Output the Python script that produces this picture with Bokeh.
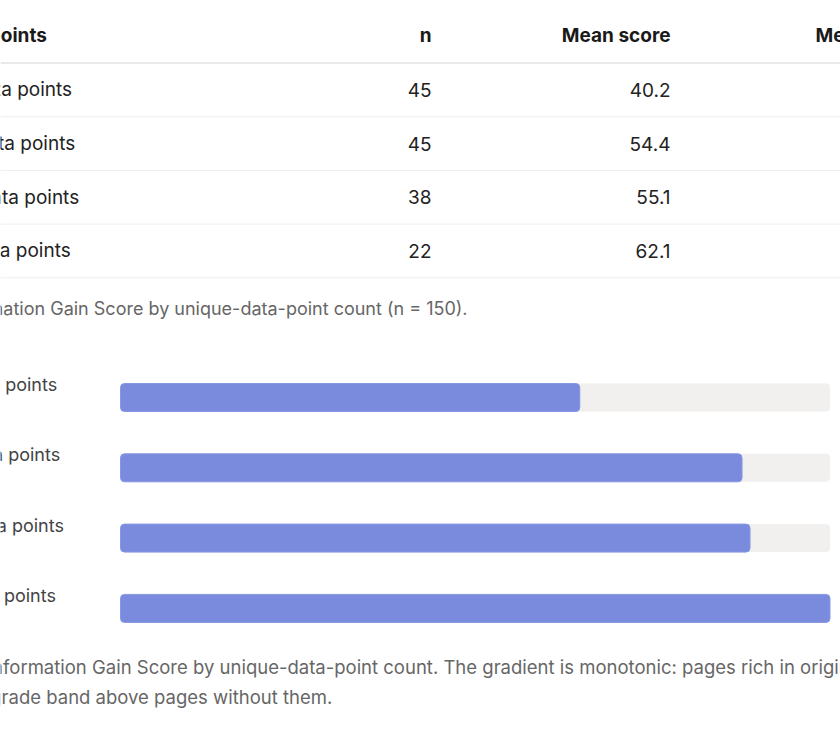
from bokeh.plotting import figure
from bokeh.models import Range1d, ColumnDataSource
from bokeh.embed import file_html
from bokeh.resources import INLINE
from bokeh.core.properties import value

# ---------------- data ----------------
header = ["Data points", "n", "Mean score", "Median score"]
groups = ["No data points", "1–2 data points", "3–5 data points", "6+ data points"]
bar_labels = ["No data points", "1–2 data points", "3–5 data points", "6+ data points"]
n_pages = [45, 45, 38, 22]
mean_score = [40.2, 54.4, 55.1, 62.1]
table_caption = "Table 1. Mean Information Gain Score by unique-data-point count (n = 150)."
figure_caption = [
    "Figure 1. Mean Information Gain Score by unique-data-point count. The gradient is monotonic: pages rich in original",
    "data earn a full grade band above pages without them.",
]

# ---------------- layout constants ----------------
W, H = 840, 740
FONT = value("Inter")
TABLE_X0 = -59
HEAD_Y = 35
HEAD_LINE = 62.5
ROW_H = 53.7
N_RIGHT = 431
MEAN_RIGHT = 670
MEDIAN_LEFT = 815
CAP1_X0 = -174
CAP1_Y = 308
TRACK_L, TRACK_R = 120, 829.5
BAR_Y0, BAR_STEP, BAR_H = 397, 70.3, 28
LABEL_X0 = -67
FIGCAP_X0 = -146
FIGCAP_Y0, FIGCAP_STEP = 666, 30

p = figure(width=W, height=H, x_range=Range1d(0, W), y_range=Range1d(H, 0),
           min_border=0, toolbar_location=None, output_backend="svg",
           x_axis_location=None, y_axis_location=None)
p.grid.visible = False
p.outline_line_color = None
p.background_fill_color = "white"
p.border_fill_color = "white"

# score range mapped so that 0 -> TRACK_L and max -> TRACK_R
smax = max(mean_score)
scale = (TRACK_R - TRACK_L) / smax
p.extra_x_ranges = {"score": Range1d(-TRACK_L / scale, (W - TRACK_L) / scale)}

# ---------------- table ----------------
nrows = len(groups)
row_y = [HEAD_LINE + ROW_H * (i + 0.5) for i in range(nrows)]
line_y = [HEAD_LINE + ROW_H * (i + 1) for i in range(nrows)]

p.segment(x0=[0], x1=[W], y0=[HEAD_LINE], y1=[HEAD_LINE], line_color="#e2e2e2", line_width=1.3)
p.segment(x0=[0] * nrows, x1=[W] * nrows, y0=line_y, y1=line_y, line_color="#eeeeee", line_width=1)

hdr_common = dict(text_font=FONT, text_font_size="19px", text_font_style="bold",
                  text_color="#1a1a1a", text_baseline="middle")
p.text(x=[TABLE_X0], y=[HEAD_Y], text=[header[0]], text_align="left", **hdr_common)
p.text(x=[N_RIGHT, MEAN_RIGHT], y=[HEAD_Y, HEAD_Y], text=[header[1], header[2]],
       text_align="right", **hdr_common)
p.text(x=[MEDIAN_LEFT], y=[HEAD_Y], text=[header[3]], text_align="left", **hdr_common)

src = ColumnDataSource(dict(
    label=groups, y=row_y,
    n=[str(v) for v in n_pages],
    mean=[f"{v:.1f}" for v in mean_score],
))
cell = dict(text_font=FONT, text_font_size="19px", text_color="#222222", text_baseline="middle")
p.text(x=TABLE_X0, y="y", text="label", source=src, text_align="left", **cell)
p.text(x=N_RIGHT, y="y", text="n", source=src, text_align="right", **cell)
p.text(x=MEAN_RIGHT, y="y", text="mean", source=src, text_align="right", **cell)

cap = dict(text_font=FONT, text_color="#666666", text_baseline="middle", text_align="left")
p.text(x=[CAP1_X0], y=[CAP1_Y], text=[table_caption], text_font_size="18px", **cap)

# ---------------- bar chart ----------------
bar_y = [BAR_Y0 + BAR_STEP * i for i in range(nrows)]
bsrc = ColumnDataSource(dict(y=bar_y, score=mean_score, full=[smax] * nrows,
                             label=bar_labels, ly=[y - 13 for y in bar_y]))
p.hbar(y="y", left=0, right="full", height=BAR_H, source=bsrc, x_range_name="score",
       fill_color="#f1f0ee", line_color=None, border_radius=4)
p.hbar(y="y", left=0, right="score", height=BAR_H, source=bsrc, x_range_name="score",
       fill_color="#7a8bdd", line_color="#8797e2", line_width=1, border_radius=4)
p.text(x=LABEL_X0, y="ly", text="label", source=bsrc, text_align="left",
       text_font=FONT, text_font_size="18px", text_color="#444444", text_baseline="middle")

p.text(x=[FIGCAP_X0] * 2, y=[FIGCAP_Y0, FIGCAP_Y0 + FIGCAP_STEP], text=figure_caption,
       text_font_size="18.5px", **cap)

open("out.html", "w").write(file_html(p, INLINE))
